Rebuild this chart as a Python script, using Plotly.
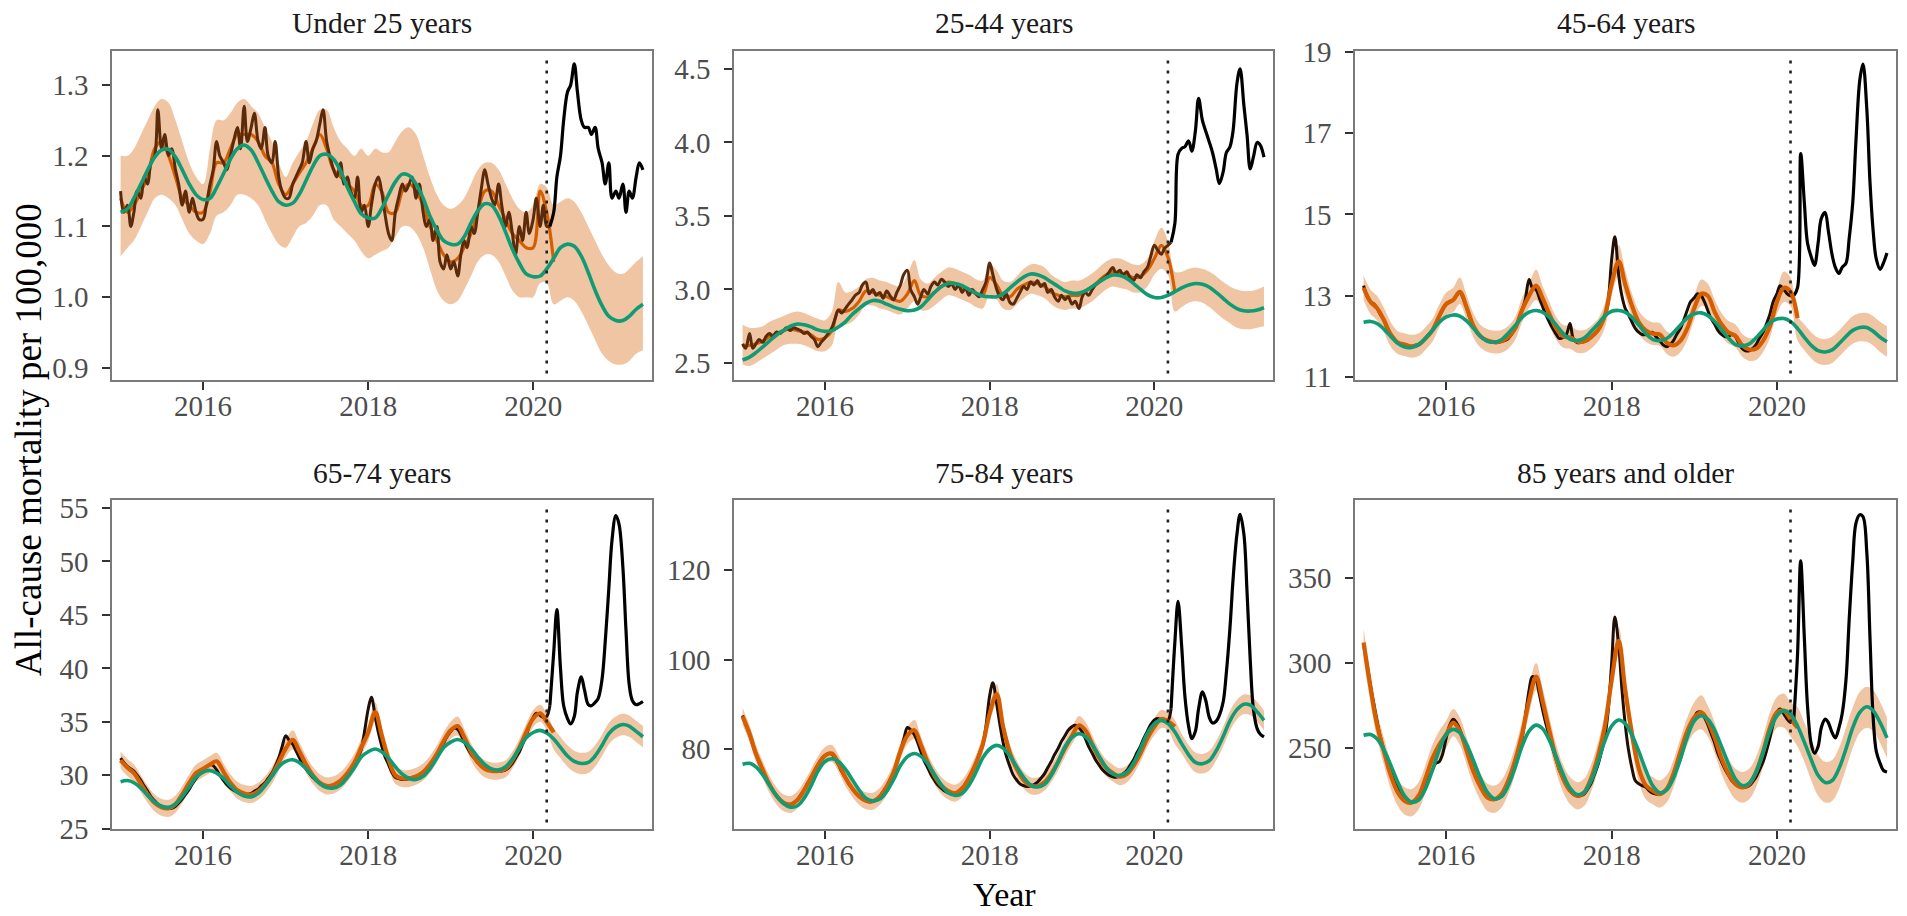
import pandas as pd
import plotly.graph_objects as go

# ---------------- time grids ----------------
MONTHS = pd.date_range("2015-01-01", periods=77, freq="MS")      # monthly, 2015-01 .. 2021-05
HALF = pd.date_range("2015-01-01", periods=153, freq="SMS")      # semi-monthly, 2015-01-01 .. 2021-05-01

PANEL_TITLES = ["Under 25 years", "25-44 years", "45-64 years",
                "65-74 years", "75-84 years", "85 years and older"]

# ---------------- Under 25 years ----------------
U25_OBS = [
    1.15, 1.12, 1.13, 1.10, 1.12, 1.15, 1.14, 1.17, 1.16, 1.19, 1.20, 1.265, 1.21, 1.23, 1.20, 1.21, 1.18, 1.16, 1.13, 1.15, 1.12, 1.14, 1.12, 1.11,
    1.11, 1.13, 1.16, 1.18, 1.22, 1.20, 1.19, 1.18, 1.20, 1.22, 1.24, 1.21, 1.27, 1.22, 1.24, 1.26, 1.22, 1.21, 1.24, 1.20, 1.19, 1.22, 1.17, 1.15,
    1.14, 1.14, 1.16, 1.17, 1.18, 1.19, 1.22, 1.19, 1.21, 1.22, 1.245, 1.265, 1.22, 1.20, 1.18, 1.17, 1.19, 1.16, 1.17, 1.15, 1.14, 1.17, 1.12, 1.13,
    1.10, 1.13, 1.16, 1.17, 1.15, 1.12, 1.09, 1.08, 1.12, 1.14, 1.16, 1.15, 1.16, 1.17, 1.14, 1.16, 1.12, 1.10, 1.11, 1.08, 1.10, 1.05, 1.04, 1.06,
    1.04, 1.05, 1.03, 1.06, 1.08, 1.07, 1.10, 1.09, 1.12, 1.15, 1.18, 1.16, 1.14, 1.13, 1.16, 1.13, 1.10, 1.12, 1.09, 1.06, 1.10, 1.08, 1.12, 1.09,
    1.11, 1.14, 1.10, 1.13, 1.10, 1.10, 1.12, 1.17, 1.20, 1.25, 1.29, 1.30, 1.33, 1.29, 1.25, 1.24, 1.24, 1.23, 1.24, 1.21, 1.19, 1.16, 1.19, 1.14,
    1.15, 1.14, 1.16, 1.12, 1.15, 1.14, 1.17, 1.19, 1.18,
]
U25_FIT = [
    1.14, 1.12, 1.13, 1.15, 1.17, 1.21, 1.22, 1.20, 1.17, 1.14, 1.13, 1.12,
    1.12, 1.15, 1.19, 1.19, 1.21, 1.23, 1.23, 1.23, 1.22, 1.20, 1.19, 1.16,
    1.145, 1.16, 1.175, 1.19, 1.21, 1.23, 1.21, 1.18, 1.17, 1.16, 1.15, 1.13,
    1.13, 1.16, 1.15, 1.12, 1.12, 1.15, 1.16, 1.15, 1.13, 1.10, 1.08, 1.06,
    1.05, 1.055, 1.07, 1.09, 1.12, 1.15, 1.15, 1.13, 1.11, 1.09, 1.08, 1.07,
    1.07, 1.15, 1.12, 1.05,
]
U25_BASE = [
    1.12, 1.125, 1.14, 1.16, 1.18, 1.198, 1.208, 1.209, 1.198, 1.18, 1.16, 1.145,
    1.138, 1.14, 1.155, 1.175, 1.195, 1.21, 1.215, 1.208, 1.19, 1.17, 1.15, 1.135,
    1.13, 1.133, 1.145, 1.165, 1.185, 1.20, 1.202, 1.195, 1.178, 1.155, 1.135, 1.118,
    1.112, 1.112, 1.125, 1.145, 1.163, 1.174, 1.172, 1.16, 1.14, 1.115, 1.095, 1.08,
    1.075, 1.075, 1.085, 1.105, 1.122, 1.132, 1.13, 1.115, 1.092, 1.068, 1.048, 1.033,
    1.029, 1.03, 1.04, 1.055, 1.07, 1.075, 1.072, 1.058, 1.035, 1.01, 0.988, 0.973,
    0.967, 0.967, 0.973, 0.983, 0.99,
]
U25_HI = [
    1.20, 1.20, 1.21, 1.23, 1.25, 1.27, 1.28, 1.275, 1.25, 1.22, 1.19, 1.17,
    1.16, 1.21, 1.25, 1.25, 1.26, 1.275, 1.28, 1.27, 1.26, 1.24, 1.22, 1.19,
    1.17, 1.19, 1.205, 1.22, 1.245, 1.265, 1.265, 1.24, 1.22, 1.21, 1.20, 1.21,
    1.20, 1.21, 1.205, 1.205, 1.22, 1.235, 1.24, 1.23, 1.20, 1.17, 1.145, 1.13,
    1.125, 1.13, 1.14, 1.16, 1.18, 1.19, 1.19, 1.18, 1.16, 1.14, 1.125, 1.12,
    1.13, 1.16, 1.155, 1.13, 1.135, 1.14, 1.135, 1.12, 1.10, 1.08, 1.06, 1.045,
    1.035, 1.033, 1.04, 1.05, 1.058,
]
U25_LO = [
    1.058, 1.07, 1.08, 1.10, 1.12, 1.14, 1.145, 1.14, 1.13, 1.11, 1.09, 1.08,
    1.075, 1.09, 1.115, 1.12, 1.13, 1.145, 1.145, 1.14, 1.13, 1.11, 1.09, 1.075,
    1.07, 1.085, 1.10, 1.105, 1.115, 1.13, 1.13, 1.11, 1.10, 1.09, 1.08, 1.065,
    1.055, 1.06, 1.065, 1.07, 1.085, 1.10, 1.10, 1.09, 1.07, 1.04, 1.01, 0.995,
    0.99, 0.995, 1.01, 1.03, 1.05, 1.06, 1.06, 1.05, 1.03, 1.01, 1.00, 1.00,
    1.00, 1.02, 1.02, 0.99, 0.995, 1.00, 0.995, 0.98, 0.96, 0.94, 0.92, 0.91,
    0.905, 0.905, 0.91, 0.92, 0.925,
]

# ---------------- 25-44 years ----------------
A2544_OBS = [
    2.63, 2.60, 2.70, 2.60, 2.63, 2.66, 2.64, 2.68, 2.70, 2.68, 2.71, 2.70, 2.72, 2.74, 2.72, 2.74, 2.73, 2.72, 2.70, 2.71, 2.68, 2.66, 2.61, 2.64,
    2.67, 2.70, 2.74, 2.80, 2.86, 2.84, 2.87, 2.90, 2.93, 2.96, 2.98, 3.03, 3.05, 2.97, 3.00, 2.96, 2.98, 2.94, 2.99, 2.96, 2.93, 2.98, 3.03, 3.10,
    3.13, 3.00, 2.95, 2.90, 2.95, 3.00, 2.97, 3.02, 3.05, 3.03, 3.07, 3.05, 3.02, 3.04, 3.00, 3.03, 2.98, 3.01, 2.96, 3.00, 2.97, 2.95, 3.00, 3.05,
    3.18, 3.10, 3.00, 2.95, 2.93, 2.97, 2.91, 2.90, 2.94, 2.98, 3.02, 3.00, 3.05, 3.03, 3.06, 3.02, 3.04, 2.98, 3.00, 2.95, 2.92, 2.96, 2.93, 2.95,
    2.90, 2.92, 2.87, 2.95, 2.98, 2.96, 3.00, 3.03, 3.05, 3.07, 3.09, 3.12, 3.15, 3.11, 3.13, 3.10, 3.12, 3.08, 3.06, 3.10, 3.08, 3.12, 3.15, 3.22,
    3.30, 3.27, 3.24, 3.28, 3.30, 3.32, 3.45, 3.92, 3.96, 3.97, 4.01, 3.94, 4.08, 4.30, 4.15, 4.08, 4.00, 3.93, 3.82, 3.72, 3.80, 3.93, 3.97, 4.08,
    4.40, 4.50, 4.25, 4.05, 3.82, 3.90, 4.00, 3.98, 3.90,
]
A2544_FIT = [
    2.62, 2.62, 2.63, 2.65, 2.68, 2.70, 2.72, 2.73, 2.72, 2.71, 2.69, 2.66,
    2.67, 2.72, 2.86, 2.85, 2.87, 2.92, 2.99, 2.98, 2.96, 2.95, 2.93, 2.92,
    2.97, 3.06, 2.96, 2.95, 2.98, 3.02, 3.05, 3.04, 3.01, 3.00, 2.97, 2.96,
    3.08, 3.03, 2.96, 2.95, 3.00, 3.03, 3.05, 3.04, 3.02, 2.98, 2.96, 2.95,
    2.96, 2.96, 2.99, 3.02, 3.06, 3.10, 3.12, 3.11, 3.10, 3.08, 3.09, 3.13,
    3.21, 3.30, 3.22, 2.98,
]
A2544_BASE = [
    2.52, 2.54, 2.57, 2.61, 2.65, 2.69, 2.72, 2.75, 2.765, 2.76, 2.745, 2.725,
    2.715, 2.72, 2.745, 2.78, 2.83, 2.87, 2.905, 2.925, 2.92, 2.90, 2.88, 2.865,
    2.855, 2.86, 2.88, 2.93, 2.98, 3.02, 3.04, 3.04, 3.025, 3.00, 2.975, 2.955,
    2.95, 2.95, 2.97, 3.01, 3.05, 3.085, 3.105, 3.10, 3.08, 3.05, 3.02, 2.99,
    2.975, 2.975, 2.99, 3.02, 3.05, 3.08, 3.098, 3.095, 3.075, 3.04, 3.00, 2.965,
    2.945, 2.945, 2.96, 2.985, 3.01, 3.03, 3.04, 3.035, 3.015, 2.98, 2.94, 2.90,
    2.87, 2.855, 2.853, 2.86, 2.877,
]
A2544_HI = [
    2.76, 2.74, 2.74, 2.75, 2.78, 2.80, 2.82, 2.84, 2.85, 2.84, 2.82, 2.80,
    2.79, 2.85, 3.05, 2.98, 2.99, 3.02, 3.07, 3.08, 3.06, 3.05, 3.03, 3.02,
    3.10, 3.20, 3.07, 3.04, 3.08, 3.12, 3.15, 3.14, 3.12, 3.10, 3.07, 3.06,
    3.17, 3.13, 3.06, 3.05, 3.09, 3.14, 3.17, 3.17, 3.15, 3.10, 3.07, 3.05,
    3.06, 3.06, 3.08, 3.11, 3.15, 3.19, 3.21, 3.21, 3.19, 3.17, 3.17, 3.21,
    3.33, 3.42, 3.33, 3.12, 3.12, 3.14, 3.15, 3.14, 3.12, 3.09, 3.05, 3.02,
    3.00, 2.99, 2.99, 3.00, 3.02,
]
A2544_LO = [
    2.49, 2.48, 2.50, 2.53, 2.56, 2.59, 2.62, 2.63, 2.63, 2.62, 2.60, 2.58,
    2.58, 2.62, 2.76, 2.76, 2.78, 2.83, 2.89, 2.89, 2.87, 2.86, 2.84, 2.83,
    2.87, 2.92, 2.86, 2.86, 2.89, 2.93, 2.96, 2.95, 2.93, 2.91, 2.88, 2.87,
    2.96, 2.93, 2.87, 2.86, 2.90, 2.94, 2.97, 2.96, 2.94, 2.90, 2.87, 2.86,
    2.87, 2.87, 2.89, 2.92, 2.96, 3.00, 3.02, 3.01, 3.00, 2.98, 2.98, 3.02,
    3.10, 3.14, 3.10, 2.85, 2.88, 2.91, 2.92, 2.91, 2.88, 2.84, 2.80, 2.77,
    2.74, 2.73, 2.73, 2.74, 2.75,
]

# ---------------- 45-64 years ----------------
A4564_OBS = [
    13.25, 13.0, 12.85, 12.8, 12.7, 12.55, 12.4, 12.2, 12.05, 11.95, 11.85, 11.8, 11.8, 11.78, 11.75, 11.78, 11.8, 11.85, 11.95, 12.05, 12.15, 12.3, 12.5, 12.65,
    12.8, 12.85, 12.9, 13.0, 13.1, 12.95, 12.7, 12.45, 12.25, 12.1, 12.0, 11.95, 11.9, 11.88, 11.85, 11.85, 11.88, 11.9, 11.95, 12.05, 12.2, 12.4, 12.65, 12.9,
    13.4, 13.2, 13.15, 12.95, 12.75, 12.55, 12.35, 12.2, 12.05, 11.95, 11.98, 12.05, 12.32, 11.95, 11.85, 11.85, 11.88, 11.9, 11.98, 12.05, 12.15, 12.3, 12.5, 12.8,
    13.9, 14.45, 13.5, 13.0, 12.7, 12.55, 12.35, 12.2, 12.1, 12.05, 12.05, 12.08, 12.1, 12.0, 11.9, 11.8, 11.75, 11.8, 11.9, 12.05, 12.2, 12.4, 12.65, 12.85,
    12.95, 13.05, 13.0, 12.85, 12.65, 12.45, 12.3, 12.15, 12.05, 12.0, 12.0, 12.05, 12.0, 11.85, 11.7, 11.65, 11.65, 11.7, 11.8, 11.95, 12.1, 12.3, 12.55, 12.85,
    13.05, 13.25, 13.15, 13.05, 13.0, 13.0, 13.2, 16.5, 15.3, 14.3, 13.95, 13.75, 14.3, 14.9, 15.05, 14.6, 14.0, 13.7, 13.55, 13.7, 13.8, 14.4, 15.3, 16.8,
    18.3, 18.7, 17.6, 15.8, 14.6, 13.9, 13.65, 13.8, 14.05,
]
A4564_FIT = [
    13.2, 12.85, 12.7, 12.4, 12.05, 11.85, 11.8, 11.76, 11.8, 11.95, 12.15, 12.5,
    12.8, 12.9, 13.1, 12.7, 12.25, 12.0, 11.9, 11.86, 11.88, 11.98, 12.2, 12.65,
    13.0, 13.25, 12.95, 12.55, 12.2, 12.0, 11.98, 11.88, 11.88, 11.98, 12.15, 12.5,
    13.3, 13.85, 13.3, 12.75, 12.35, 12.15, 12.07, 12.05, 11.85, 11.78, 11.9, 12.2,
    12.7, 13.05, 13.0, 12.6, 12.3, 12.1, 12.02, 11.78, 11.68, 11.7, 11.9, 12.25,
    12.85, 13.2, 13.1, 12.45,
]
A4564_BASE = [
    12.35, 12.37, 12.32, 12.18, 12.0, 11.83, 11.74, 11.73, 11.8, 11.95, 12.15, 12.35,
    12.48, 12.53, 12.5, 12.38, 12.2, 12.0, 11.88, 11.86, 11.92, 12.08, 12.27, 12.47,
    12.6, 12.64, 12.6, 12.47, 12.28, 12.07, 11.93, 11.9, 11.96, 12.12, 12.3, 12.5,
    12.62, 12.64, 12.6, 12.47, 12.28, 12.07, 11.93, 11.9, 11.95, 12.1, 12.28, 12.46,
    12.56, 12.58, 12.52, 12.37, 12.17, 11.96, 11.8, 11.77, 11.82, 11.97, 12.16, 12.34,
    12.43, 12.44, 12.37, 12.2, 11.98, 11.78, 11.65, 11.62, 11.67, 11.82, 12.0, 12.15,
    12.22, 12.22, 12.13, 11.98, 11.87,
]
A4564_HI = [
    13.5, 13.15, 13.0, 12.7, 12.35, 12.13, 12.08, 12.04, 12.08, 12.23, 12.43, 12.78,
    13.08, 13.2, 13.45, 13.0, 12.55, 12.28, 12.18, 12.14, 12.16, 12.26, 12.48, 12.95,
    13.3, 13.65, 13.25, 12.85, 12.48, 12.28, 12.26, 12.16, 12.16, 12.26, 12.43, 12.8,
    13.65, 14.25, 13.65, 13.05, 12.63, 12.43, 12.35, 12.33, 12.13, 12.06, 12.18, 12.48,
    13.0, 13.4, 13.3, 12.9, 12.58, 12.38, 12.3, 12.06, 11.96, 11.98, 12.18, 12.55,
    13.15, 13.6, 13.45, 12.5, 12.3, 12.1, 11.97, 11.94, 12.0, 12.15, 12.34, 12.5,
    12.57, 12.58, 12.5, 12.36, 12.25,
]
A4564_LO = [
    12.9, 12.55, 12.4, 12.1, 11.75, 11.57, 11.52, 11.48, 11.52, 11.67, 11.87, 12.22,
    12.52, 12.6, 12.8, 12.4, 11.97, 11.72, 11.62, 11.58, 11.6, 11.7, 11.92, 12.35,
    12.7, 12.9, 12.65, 12.27, 11.92, 11.72, 11.7, 11.6, 11.6, 11.7, 11.87, 12.2,
    13.0, 13.5, 13.0, 12.47, 12.07, 11.87, 11.79, 11.77, 11.57, 11.5, 11.62, 11.92,
    12.42, 12.75, 12.7, 12.32, 12.02, 11.82, 11.74, 11.5, 11.4, 11.42, 11.62, 11.97,
    12.55, 12.85, 12.75, 11.9, 11.66, 11.46, 11.33, 11.3, 11.35, 11.5, 11.68, 11.82,
    11.88, 11.87, 11.78, 11.62, 11.5,
]

# ---------------- 65-74 years ----------------
A6574_OBS = [
    31.6, 31.2, 30.8, 30.6, 30.4, 30.0, 29.5, 29.0, 28.5, 28.0, 27.6, 27.3, 27.1, 27.0, 26.9, 26.9, 27.1, 27.4, 27.8, 28.2, 28.7, 29.2, 29.7, 30.1,
    30.5, 30.8, 31.0, 30.9, 30.5, 30.0, 29.5, 29.1, 28.8, 28.6, 28.4, 28.3, 28.2, 28.2, 28.3, 28.5, 28.7, 29.0, 29.3, 29.7, 30.2, 30.8, 31.6, 32.6,
    33.7, 33.3, 32.9, 32.3, 31.7, 31.1, 30.6, 30.2, 29.8, 29.5, 29.3, 29.1, 29.0, 29.0, 29.1, 29.3, 29.5, 29.8, 30.1, 30.5, 31.0, 31.6, 32.4, 34.0,
    36.2, 37.3, 35.5, 34.0, 32.8, 31.8, 31.0, 30.3, 29.8, 29.7, 29.6, 29.6, 29.7, 29.8, 29.9, 30.0, 30.2, 30.5, 30.9, 31.3, 31.8, 32.4, 33.0, 33.6,
    34.1, 34.4, 34.3, 33.8, 33.2, 32.6, 32.0, 31.6, 31.2, 30.9, 30.7, 30.6, 30.5, 30.5, 30.4, 30.4, 30.5, 30.7, 31.1, 31.6, 32.2, 32.9, 33.7, 34.6,
    35.4, 35.8, 35.6, 35.4, 35.5, 36.5, 41.5, 45.5, 40.0, 36.5, 35.3, 34.8, 35.5, 37.8, 39.2, 38.0, 36.6, 36.5, 36.8, 37.2, 39.0, 42.5, 47.5, 52.0,
    54.3, 53.5, 49.5, 43.5, 38.5, 37.0, 36.6, 36.7, 36.9,
]
A6574_FIT = [
    31.4, 30.7, 30.2, 29.2, 28.2, 27.4, 27.0, 26.9, 27.3, 28.2, 29.3, 30.2,
    30.6, 31.0, 31.3, 30.3, 29.3, 28.6, 28.3, 28.2, 28.5, 29.1, 30.0, 31.2,
    32.5, 33.3, 32.3, 31.0, 30.0, 29.3, 29.0, 29.1, 29.5, 30.2, 31.2, 32.6,
    34.0, 35.9, 33.8, 31.5, 30.0, 29.7, 29.7, 29.9, 30.3, 31.0, 32.0, 33.2,
    34.2, 34.6, 33.6, 32.2, 31.2, 30.6, 30.4, 30.4, 30.6, 31.4, 32.6, 34.0,
    35.3, 35.8, 35.0, 34.0,
]
A6574_BASE = [
    29.4, 29.5, 29.3, 28.8, 28.1, 27.5, 27.1, 27.0, 27.3, 28.0, 28.9, 29.8,
    30.3, 30.45, 30.2, 29.7, 29.0, 28.4, 28.05, 27.97, 28.3, 29.0, 29.9, 30.8,
    31.3, 31.45, 31.2, 30.6, 29.9, 29.2, 28.85, 28.8, 29.1, 29.8, 30.7, 31.7,
    32.2, 32.45, 32.2, 31.6, 30.8, 30.1, 29.7, 29.6, 29.9, 30.6, 31.6, 32.6,
    33.1, 33.35, 33.1, 32.5, 31.7, 31.0, 30.6, 30.5, 30.8, 31.5, 32.5, 33.5,
    34.0, 34.2, 33.95, 33.4, 32.6, 31.8, 31.3, 31.1, 31.2, 31.8, 32.8, 33.9,
    34.5, 34.75, 34.6, 34.1, 33.6,
]
A6574_HI = [
    32.2, 31.5, 31.0, 30.0, 29.0, 28.2, 27.8, 27.7, 28.1, 29.0, 30.1, 31.0,
    31.4, 31.8, 32.1, 31.1, 30.1, 29.4, 29.1, 29.0, 29.3, 29.9, 30.8, 32.0,
    33.3, 34.2, 33.1, 31.8, 30.8, 30.1, 29.8, 29.9, 30.3, 31.0, 32.0, 33.4,
    34.8, 36.8, 34.6, 32.3, 30.8, 30.5, 30.5, 30.7, 31.1, 31.8, 32.8, 34.0,
    35.0, 35.5, 34.4, 33.0, 32.0, 31.4, 31.2, 31.2, 31.4, 32.2, 33.4, 34.8,
    36.1, 36.6, 35.8, 34.4, 33.6, 32.8, 32.3, 32.1, 32.2, 32.8, 33.8, 34.9,
    35.5, 35.75, 35.6, 35.1, 34.6,
]
A6574_LO = [
    30.6, 29.9, 29.4, 28.4, 27.4, 26.6, 26.2, 26.1, 26.5, 27.4, 28.5, 29.4,
    29.8, 30.2, 30.5, 29.5, 28.5, 27.8, 27.5, 27.4, 27.7, 28.3, 29.2, 30.4,
    31.7, 32.4, 31.5, 30.2, 29.2, 28.5, 28.2, 28.3, 28.7, 29.4, 30.4, 31.8,
    33.2, 35.0, 33.0, 30.7, 29.2, 28.9, 28.9, 29.1, 29.5, 30.2, 31.2, 32.4,
    33.4, 33.7, 32.8, 31.4, 30.4, 29.8, 29.6, 29.6, 29.8, 30.6, 31.8, 33.2,
    34.5, 35.0, 34.2, 32.4, 31.6, 30.8, 30.3, 30.1, 30.2, 30.8, 31.8, 32.9,
    33.5, 33.75, 33.6, 33.1, 32.6,
]

# ---------------- 75-84 years ----------------
A7584_OBS = [
    87.5, 85.5, 83.3, 81.0, 79.0, 77.0, 75.2, 73.5, 72.0, 70.6, 69.5, 68.6, 68.0, 67.7, 67.6, 67.9, 68.6, 69.6, 70.8, 72.2, 73.6, 75.0, 76.4, 77.6,
    78.5, 79.0, 78.8, 77.8, 76.5, 75.0, 73.6, 72.3, 71.2, 70.2, 69.4, 68.8, 68.4, 68.2, 68.3, 68.7, 69.4, 70.4, 71.6, 73.0, 74.8, 77.0, 79.5, 82.0,
    84.8, 84.3, 83.2, 81.5, 79.5, 77.5, 75.8, 74.3, 73.0, 72.0, 71.2, 70.6, 70.2, 70.0, 70.1, 70.5, 71.2, 72.2, 73.5, 75.0, 76.8, 78.8, 81.0, 85.0,
    92.0, 94.8, 90.0, 85.5, 81.5, 78.5, 76.0, 74.2, 73.0, 72.2, 71.8, 71.6, 71.7, 72.0, 72.6, 73.4, 74.5, 75.8, 77.2, 78.7, 80.2, 81.7, 83.0, 84.2,
    85.0, 85.3, 84.8, 83.8, 82.3, 80.6, 79.0, 77.6, 76.4, 75.4, 74.6, 74.1, 73.8, 73.7, 73.9, 74.4, 75.2, 76.3, 77.6, 79.1, 80.7, 82.4, 84.0, 85.4,
    86.5, 86.8, 86.5, 86.2, 86.3, 89.0, 104.0, 113.0, 103.0, 92.0, 85.0, 82.3, 84.0, 89.0, 92.8, 91.0, 87.0, 85.8, 86.2, 87.5, 90.5, 97.0, 107.0, 118.0,
    128.0, 132.5, 128.0, 115.0, 100.0, 89.0, 84.5, 83.3, 82.7,
]
A7584_FIT = [
    87.3, 83.4, 79.0, 75.3, 72.0, 69.5, 68.0, 67.6, 68.6, 70.8, 73.6, 76.4,
    78.5, 79.0, 76.8, 73.6, 71.2, 69.4, 68.4, 68.3, 69.4, 71.6, 74.8, 79.5,
    83.0, 84.2, 81.0, 77.0, 74.0, 71.8, 70.6, 70.1, 71.2, 73.5, 76.8, 81.0,
    88.0, 92.3, 85.0, 79.0, 75.5, 73.0, 71.8, 71.7, 72.6, 74.5, 77.2, 80.2,
    83.0, 85.3, 84.2, 81.0, 78.0, 75.8, 74.6, 73.8, 74.4, 76.3, 79.1, 82.4,
    85.0, 86.7, 86.2, 85.0,
]
A7584_BASE = [
    76.6, 76.8, 76.0, 74.2, 71.8, 69.5, 67.8, 67.0, 67.3, 69.0, 71.8, 75.0,
    77.2, 77.8, 77.2, 75.5, 73.2, 70.8, 69.0, 68.4, 68.8, 70.5, 73.2, 76.3,
    78.3, 79.0, 78.4, 76.7, 74.3, 71.9, 70.2, 69.6, 70.1, 71.9, 74.8, 78.0,
    80.0, 80.8, 80.2, 78.4, 76.0, 73.6, 72.0, 71.5, 72.1, 74.1, 77.2, 80.5,
    82.6, 83.4, 82.8, 80.9, 78.4, 75.9, 74.4, 74.1, 74.8, 76.9, 80.1, 83.5,
    85.6, 86.4, 85.7, 83.8, 81.2, 78.7, 77.0, 76.7, 77.4, 79.6, 82.8, 86.3,
    88.8, 90.0, 89.8, 88.3, 86.4,
]
A7584_HI = [
    89.2, 85.3, 80.9, 77.2, 73.9, 71.4, 69.9, 69.5, 70.5, 72.7, 75.5, 78.3,
    80.4, 80.9, 78.7, 75.5, 73.1, 71.3, 70.3, 70.2, 71.3, 73.5, 76.7, 81.4,
    84.9, 86.5, 82.9, 78.9, 75.9, 73.7, 72.5, 72.0, 73.1, 75.4, 78.7, 82.9,
    90.0, 94.5, 86.9, 80.9, 77.4, 74.9, 73.7, 73.6, 74.5, 76.4, 79.1, 82.1,
    84.9, 87.4, 86.1, 82.9, 79.9, 77.7, 76.5, 75.7, 76.3, 78.2, 81.0, 84.3,
    86.9, 88.7, 88.2, 86.5, 83.4, 80.9, 79.2, 78.9, 79.6, 81.8, 85.0, 88.5,
    91.0, 92.2, 92.0, 90.5, 88.6,
]
A7584_LO = [
    85.4, 81.5, 77.1, 73.4, 70.1, 67.6, 66.1, 65.7, 66.7, 68.9, 71.7, 74.5,
    76.6, 77.1, 74.9, 71.7, 69.3, 67.5, 66.5, 66.4, 67.5, 69.7, 72.9, 77.6,
    81.1, 82.2, 79.1, 75.1, 72.1, 69.9, 68.7, 68.2, 69.3, 71.6, 74.9, 79.1,
    86.0, 90.2, 83.1, 77.1, 73.6, 71.1, 69.9, 69.8, 70.7, 72.6, 75.3, 78.3,
    81.1, 83.2, 82.3, 79.1, 76.1, 73.9, 72.7, 71.9, 72.5, 74.4, 77.2, 80.5,
    83.1, 84.7, 84.2, 81.1, 79.0, 76.5, 74.8, 74.5, 75.2, 77.4, 80.6, 84.1,
    86.6, 87.8, 87.6, 86.1, 84.2,
]

# ---------------- 85 years and older ----------------
A85_OBS = [
    311, 300, 286, 276, 266, 257, 249, 242, 236, 231, 226, 222, 220, 218.5, 218, 218.5, 220, 223, 227, 232, 237, 241, 242, 246,
    256, 263, 267, 265, 261, 255, 249, 243, 237, 232, 228, 224, 222, 220.5, 220, 220.5, 222, 225, 229, 234, 240, 247, 256, 268,
    284, 292, 290, 282, 273, 265, 257, 250, 243, 237, 232, 228, 225, 223, 222, 222, 223, 225.5, 229, 234, 240, 247, 256, 270,
    300, 327, 310, 285, 265, 250, 238, 231, 229, 228, 227, 225, 223.5, 223, 223, 224, 226, 229, 233, 238, 244, 251, 258, 264,
    268, 271, 271, 268, 264, 259, 253, 247, 242, 238, 234, 231, 229, 227.5, 227, 227, 228, 230, 233, 237, 242, 248, 256, 264,
    271, 273, 270, 267, 265, 266, 305, 360, 315, 275, 252, 247, 251, 262, 267, 265, 259, 256, 262, 270, 290, 325, 360, 382,
    387, 386, 365, 315, 268, 248, 241, 237, 236,
]
A85_FIT = [
    312, 285, 264, 248, 234, 224, 219, 218, 222, 232, 244, 252,
    258, 265, 260, 248, 236, 227, 221, 220, 223, 231, 243, 258,
    278, 292, 278, 260, 244, 232, 225, 222, 224, 232, 245, 262,
    290, 313, 285, 258, 238, 228, 225, 223, 226, 235, 248, 260,
    268, 271, 266, 256, 244, 235, 229, 227, 229, 236, 248, 262,
    271, 272, 267, 262,
]
A85_BASE = [
    257.5, 258.0, 255.5, 249.0, 240.0, 230.0, 222.0, 218.3, 219.5, 226.0, 237.0, 249.0,
    258.0, 261.0, 259.0, 252.0, 242.5, 232.0, 224.0, 220.3, 221.5, 228.0, 239.0, 251.0,
    260.0, 263.5, 261.5, 254.5, 245.0, 234.5, 226.5, 222.7, 224.0, 230.5, 241.5, 254.0,
    263.0, 266.5, 264.5, 257.5, 248.0, 237.0, 228.0, 223.8, 225.5, 232.5, 244.0, 256.5,
    266.0, 269.0, 267.0, 260.5, 251.0, 240.5, 232.0, 228.0, 229.5, 236.0, 247.5, 260.0,
    269.0, 272.0, 270.0, 263.0, 253.5, 243.0, 234.0, 229.8, 231.0, 238.0, 249.5, 262.0,
    271.0, 274.3, 272.0, 265.0, 256.0,
]
A85_HI = [
    320, 294, 272, 256, 242, 232, 227, 226, 230, 240, 252, 260,
    266, 273, 268, 256, 244, 235, 229, 228, 231, 239, 251, 266,
    286, 300, 286, 268, 252, 240, 233, 230, 232, 240, 253, 270,
    298, 321, 293, 266, 246, 236, 233, 231, 234, 243, 256, 268,
    277, 281, 275, 265, 253, 244, 238, 236, 238, 245, 257, 271,
    280, 282, 277, 274, 265, 255, 246, 242, 243, 250, 262, 274,
    283, 286, 284, 277, 268,
]
A85_LO = [
    302, 276, 256, 240, 226, 216, 211, 210, 214, 224, 236, 244,
    250, 257, 252, 240, 228, 219, 213, 212, 215, 223, 235, 250,
    270, 284, 270, 252, 236, 224, 217, 214, 216, 224, 237, 254,
    282, 305, 277, 250, 230, 220, 217, 215, 218, 227, 240, 252,
    259, 261, 257, 247, 235, 226, 220, 218, 220, 227, 239, 253,
    262, 262, 257, 251, 242, 231, 222, 218, 219, 226, 238, 250,
    259, 262, 260, 253, 244,
]

OBS = [U25_OBS, A2544_OBS, A4564_OBS, A6574_OBS, A7584_OBS, A85_OBS]
FIT = [U25_FIT, A2544_FIT, A4564_FIT, A6574_FIT, A7584_FIT, A85_FIT]
BASE = [U25_BASE, A2544_BASE, A4564_BASE, A6574_BASE, A7584_BASE, A85_BASE]
HI = [U25_HI, A2544_HI, A4564_HI, A6574_HI, A7584_HI, A85_HI]
LO = [U25_LO, A2544_LO, A4564_LO, A6574_LO, A7584_LO, A85_LO]

Y_TICKVALS = [[0.9, 1.0, 1.1, 1.2, 1.3], [2.5, 3.0, 3.5, 4.0, 4.5], [11, 13, 15, 17, 19],
              [25, 30, 35, 40, 45, 50, 55], [80, 100, 120], [250, 300, 350]]
Y_TICKTEXT = [["0.9", "1.0", "1.1", "1.2", "1.3"], ["2.5", "3.0", "3.5", "4.0", "4.5"],
              ["11", "13", "15", "17", "19"], ["25", "30", "35", "40", "45", "50", "55"],
              ["80", "100", "120"], ["250", "300", "350"]]
Y_RANGES = [[0.883, 1.348], [2.384, 4.622], [10.93, 19.02], [24.97, 55.75], [62.1, 135.7], [202.5, 395.7]]
X_TICKVALS = ["2016-01-01", "2018-01-01", "2020-01-01"]
X_TICKTEXT = ["2016", "2018", "2020"]
X_RANGE = ["2014-11-24", "2021-06-10"]
BREAK_DATE = "2020-03-01"
SPLIT_DATE = pd.Timestamp("2020-03-15")

# ---------------- styling ----------------
W, H = 1907, 916
FONT = "Liberation Serif, Times New Roman, serif"
ORANGE = "#D55E00"
GREEN = "#0F9B74"
BAND = "rgba(213,94,0,0.36)"
BROWN = "#5A2A0A"
DARK = "#1E0E04"
OBS_ON_TOP = [True, True, False, False, False, False]

COLS_PX = [(112, 652), (734, 1273), (1355, 1896)]
ROWS_PX = [(51, 380), (500, 829)]

fig = go.Figure()
layout_axes = {}
annotations = []
shapes = []

for p in range(6):
    r, c = divmod(p, 3)
    xs = "x" if p == 0 else f"x{p+1}"
    ys = "y" if p == 0 else f"y{p+1}"
    xd = [COLS_PX[c][0] / W, COLS_PX[c][1] / W]
    yd = [1 - ROWS_PX[r][1] / H, 1 - ROWS_PX[r][0] / H]

    obs = OBS[p]
    xo = HALF[:len(obs)]
    pre_idx = [i for i, d in enumerate(xo) if d <= SPLIT_DATE]
    post_idx = [i for i, d in enumerate(xo) if d >= SPLIT_DATE]
    xm = MONTHS

    # prediction band
    fig.add_trace(go.Scatter(x=xm[:len(LO[p])], y=LO[p], mode="lines", line=dict(width=0, shape="spline"),
                             xaxis=xs, yaxis=ys, showlegend=False, hoverinfo="skip"))
    fig.add_trace(go.Scatter(x=xm[:len(HI[p])], y=HI[p], mode="lines", line=dict(width=0, shape="spline"),
                             fill="tonexty", fillcolor=BAND, xaxis=xs, yaxis=ys, showlegend=False, hoverinfo="skip"))

    fit_tr = go.Scatter(x=xm[:len(FIT[p])], y=FIT[p], mode="lines",
                        line=dict(color=ORANGE, width=3.2 if OBS_ON_TOP[p] else 4.2, shape="spline"),
                        xaxis=xs, yaxis=ys, showlegend=False)
    pre_tr = go.Scatter(x=[xo[i] for i in pre_idx], y=[obs[i] for i in pre_idx], mode="lines",
                        line=dict(color=BROWN if OBS_ON_TOP[p] else DARK, width=3, shape="spline"),
                        xaxis=xs, yaxis=ys, showlegend=False)
    post_tr = go.Scatter(x=[xo[i] for i in post_idx], y=[obs[i] for i in post_idx], mode="lines",
                         line=dict(color="black", width=3.2, shape="spline"),
                         xaxis=xs, yaxis=ys, showlegend=False)
    if OBS_ON_TOP[p]:
        fig.add_trace(fit_tr)
        fig.add_trace(pre_tr)
        fig.add_trace(post_tr)
    else:
        fig.add_trace(pre_tr)
        fig.add_trace(post_tr)
        fig.add_trace(fit_tr)

    fig.add_trace(go.Scatter(x=xm[:len(BASE[p])], y=BASE[p], mode="lines",
                             line=dict(color=GREEN, width=3.6, shape="spline"),
                             xaxis=xs, yaxis=ys, showlegend=False))

    axis_common = dict(showline=True, mirror=True, linecolor="#7a7a7a", linewidth=1.6,
                       ticks="outside", ticklen=8, tickwidth=2, tickcolor="#333333",
                       showgrid=False, zeroline=False,
                       tickfont=dict(family=FONT, size=29, color="#4d4d4d"))
    layout_axes["xaxis" if p == 0 else f"xaxis{p+1}"] = dict(
        axis_common, type="date", domain=xd, anchor=ys, range=X_RANGE,
        tickmode="array", tickvals=X_TICKVALS, ticktext=X_TICKTEXT, ticklabelstandoff=-9)
    layout_axes["yaxis" if p == 0 else f"yaxis{p+1}"] = dict(
        axis_common, domain=yd, anchor=xs, range=Y_RANGES[p],
        tickmode="array", tickvals=Y_TICKVALS[p], ticktext=Y_TICKTEXT[p], ticklabelstandoff=8)

    shapes.append(dict(type="line", xref=xs, yref=f"{ys} domain", x0=BREAK_DATE, x1=BREAK_DATE,
                       y0=0.02, y1=0.975, line=dict(color="#222222", width=2.6, dash="3px,7px"), layer="above"))

    annotations.append(dict(text=PANEL_TITLES[p], xref="paper", yref="paper",
                            x=(xd[0] + xd[1]) / 2, y=1 - (23 if r == 0 else 473) / H,
                            xanchor="center", yanchor="middle", showarrow=False,
                            font=dict(family=FONT, size=29.5, color="#1a1a1a")))

annotations.append(dict(text="All-cause mortality per 100,000", xref="paper", yref="paper",
                        x=28 / W, y=1 - 440 / H, textangle=-90, xanchor="center", yanchor="middle",
                        showarrow=False, font=dict(family=FONT, size=37, color="black")))
annotations.append(dict(text="Year", xref="paper", yref="paper",
                        x=1004 / W, y=1 - 894 / H, xanchor="center", yanchor="middle",
                        showarrow=False, font=dict(family=FONT, size=34, color="black")))

fig.update_layout(width=W, height=H, margin=dict(l=0, r=0, t=0, b=0, autoexpand=False),
                  font=dict(family=FONT, color="#4d4d4d"),
                  plot_bgcolor="white", paper_bgcolor="white", showlegend=False,
                  annotations=annotations, shapes=shapes, **layout_axes)

fig.write_html("out.html", config={"responsive": False, "displayModeBar": False})
